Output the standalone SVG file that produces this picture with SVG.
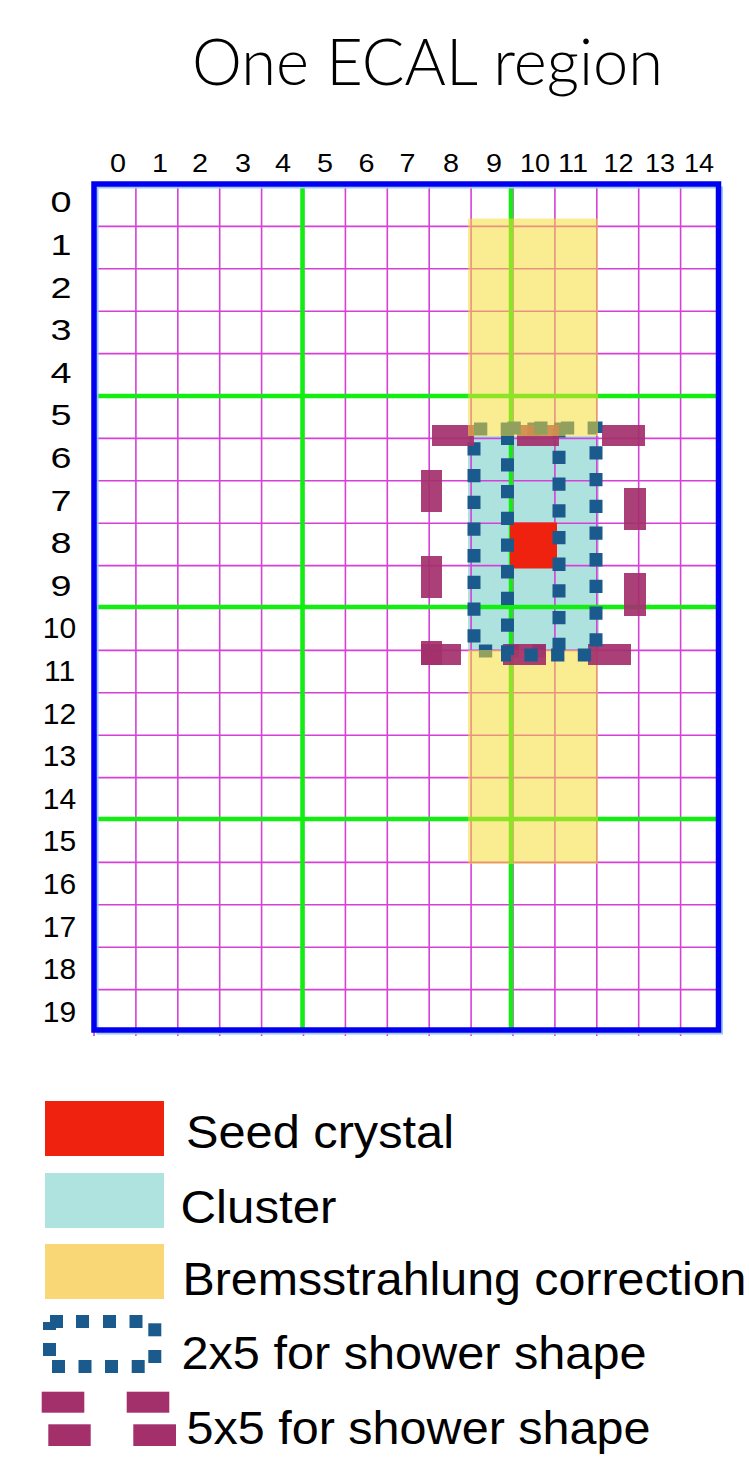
<svg xmlns="http://www.w3.org/2000/svg" width="749" height="1458" viewBox="0 0 749 1458">
<style>
.lbl{font-family:"Liberation Sans",Arial,sans-serif;fill:#000;}
.col{font-size:25px;text-anchor:middle;}
.row{font-size:30px;text-anchor:middle;}
.leg{font-size:46px;}
.title{font-family:Lato,"Open Sans",sans-serif;font-weight:300;font-size:66px;fill:#000;}
.mg{stroke:#D640D8;stroke-width:1.6;fill:none;}
.gr{stroke:#12EE12;stroke-width:4.5;fill:none;}
.yel{fill:#F6DC33;opacity:0.54;}
.bar{fill:#A3306B;opacity:0.92;}
.dash{fill:none;stroke:#1B5A8C;stroke-width:13;stroke-dasharray:13.3 13.4;}
.sq{fill:#1B5A8C;}
</style>
<rect width="749" height="1458" fill="#fff"/>

<text id="title" class="title" x="192" y="85" textLength="471" lengthAdjust="spacingAndGlyphs">One ECAL region</text>

<g id="column-labels" class="lbl col">
<text x="118" y="172" textLength="16" lengthAdjust="spacingAndGlyphs">0</text>
<text x="160" y="172" textLength="16" lengthAdjust="spacingAndGlyphs">1</text>
<text x="200" y="172" textLength="16" lengthAdjust="spacingAndGlyphs">2</text>
<text x="243" y="172" textLength="16" lengthAdjust="spacingAndGlyphs">3</text>
<text x="283" y="172" textLength="16" lengthAdjust="spacingAndGlyphs">4</text>
<text x="325" y="172" textLength="16" lengthAdjust="spacingAndGlyphs">5</text>
<text x="366.5" y="172" textLength="16" lengthAdjust="spacingAndGlyphs">6</text>
<text x="407.5" y="172" textLength="16" lengthAdjust="spacingAndGlyphs">7</text>
<text x="451" y="172" textLength="16" lengthAdjust="spacingAndGlyphs">8</text>
<text x="494" y="172" textLength="16" lengthAdjust="spacingAndGlyphs">9</text>
<text x="535" y="172" textLength="30" lengthAdjust="spacingAndGlyphs">10</text>
<text x="573" y="172" textLength="30" lengthAdjust="spacingAndGlyphs">11</text>
<text x="618.5" y="172" textLength="30" lengthAdjust="spacingAndGlyphs">12</text>
<text x="660" y="172" textLength="30" lengthAdjust="spacingAndGlyphs">13</text>
<text x="699" y="172" textLength="30" lengthAdjust="spacingAndGlyphs">14</text>
</g>

<g id="row-labels" class="lbl row">
<text x="61" y="212.3" textLength="21" lengthAdjust="spacingAndGlyphs">0</text>
<text x="61" y="254.9" textLength="21" lengthAdjust="spacingAndGlyphs">1</text>
<text x="61" y="297.5" textLength="21" lengthAdjust="spacingAndGlyphs">2</text>
<text x="61" y="340.1" textLength="21" lengthAdjust="spacingAndGlyphs">3</text>
<text x="61" y="382.7" textLength="21" lengthAdjust="spacingAndGlyphs">4</text>
<text x="61" y="425.3" textLength="21" lengthAdjust="spacingAndGlyphs">5</text>
<text x="61" y="467.9" textLength="21" lengthAdjust="spacingAndGlyphs">6</text>
<text x="61" y="510.5" textLength="21" lengthAdjust="spacingAndGlyphs">7</text>
<text x="61" y="553.1" textLength="21" lengthAdjust="spacingAndGlyphs">8</text>
<text x="61" y="595.7" textLength="21" lengthAdjust="spacingAndGlyphs">9</text>
<text x="59.5" y="638.3">10</text>
<text x="59.5" y="680.9">11</text>
<text x="59.5" y="723.5">12</text>
<text x="59.5" y="766.1">13</text>
<text x="59.5" y="808.7">14</text>
<text x="59.5" y="851.3">15</text>
<text x="59.5" y="893.9">16</text>
<text x="59.5" y="936.5">17</text>
<text x="59.5" y="979.1">18</text>
<text x="59.5" y="1021.7">19</text>
</g>

<g id="cluster">
<rect x="468" y="436" width="131" height="214" fill="#AEE2DF"/>
</g>

<g id="grid">
<path class="mg" d="M94 1030V1036M135.9 184V1036M177.8 184V1036M219.7 184V1036M261.6 184V1036M303.5 184V1036M345.4 184V1036M387.3 184V1036M429.2 184V1036M471.1 184V1036M513 184V1036M554.9 184V1036M596.8 184V1036M638.7 184V1036M680.6 184V1036"/>
<path class="mg" d="M94 226.4H716M94 268.8H716M94 311.2H716M94 353.6H716M94 396H716M94 438.4H716M94 480.8H716M94 523.2H716M94 565.6H716M94 608H716M94 650.4H716M94 692.8H716M94 735.2H716M94 777.6H716M94 820H716M94 862.4H716M94 904.8H716M94 947.2H716M94 989.6H716"/>
<path class="gr" d="M302.5 184V1030M511 184V1030M94 396H719M94 607H719M94 819H719"/>
<rect x="97.5" y="187.5" width="624.5" height="846" fill="none" stroke="#9CC8F4" stroke-width="2"/>
<rect x="94" y="184" width="624.5" height="846" fill="none" stroke="#0000F0" stroke-width="5.5"/>
</g>

<g id="seed-crystal">
<rect x="510" y="522.5" width="47" height="46" fill="#EE220F"/>
</g>

<g id="shower-2x5-a">
<rect class="dash" x="474" y="429" width="85" height="222"/>
</g>

<g id="bremsstrahlung-bottom">
<rect class="yel" x="468" y="650" width="130" height="214"/>
</g>

<g id="shower-5x5">
<rect class="bar" x="432" y="425" width="42" height="21"/>
<rect class="bar" x="517" y="425" width="42" height="21"/>
<rect class="bar" x="602" y="425" width="43" height="21"/>
<rect class="bar" x="421" y="470" width="21" height="42"/>
<rect class="bar" x="421" y="556" width="21" height="42"/>
<rect class="bar" x="624" y="488" width="22" height="42"/>
<rect class="bar" x="624" y="573" width="22" height="43"/>
<rect class="bar" x="421" y="641" width="21" height="24"/>
<rect class="bar" x="421" y="644" width="40" height="21"/>
<rect class="bar" x="503" y="644" width="43" height="21"/>
<rect class="bar" x="588" y="644" width="43" height="21"/>
</g>

<g id="shower-2x5-b">
<rect class="dash" x="507.5" y="428" width="88.5" height="227"/>
</g>

<g id="bremsstrahlung-top">
<rect class="yel" x="468" y="218.5" width="130" height="217.5"/>
</g>

<g id="legend-seed">
<rect x="45" y="1101" width="119" height="55" fill="#EE220F"/>
<text class="lbl leg" x="186" y="1148" textLength="268" lengthAdjust="spacingAndGlyphs">Seed crystal</text>
</g>
<g id="legend-cluster">
<rect x="45" y="1173" width="119" height="55" fill="#AEE3E0"/>
<text class="lbl leg" x="180.5" y="1223" textLength="156" lengthAdjust="spacingAndGlyphs">Cluster</text>
</g>
<g id="legend-brems">
<rect x="45" y="1244" width="119" height="55" fill="#F9D776"/>
<text class="lbl leg" x="182.5" y="1295" textLength="564" lengthAdjust="spacingAndGlyphs">Bremsstrahlung correction</text>
</g>
<g id="legend-2x5">
<rect class="sq" x="43" y="1322" width="13" height="8"/>
<rect class="sq" x="50" y="1315" width="13" height="13"/>
<rect class="sq" x="76" y="1315" width="13" height="13"/>
<rect class="sq" x="103" y="1315" width="13" height="13"/>
<rect class="sq" x="129.5" y="1315" width="13" height="13"/>
<rect class="sq" x="148.3" y="1323.3" width="13" height="13"/>
<rect class="sq" x="148.3" y="1350" width="13" height="13"/>
<rect class="sq" x="43" y="1343" width="13" height="13"/>
<rect class="sq" x="52" y="1360" width="13" height="13"/>
<rect class="sq" x="78.5" y="1360" width="13" height="13"/>
<rect class="sq" x="105" y="1360" width="13" height="13"/>
<rect class="sq" x="131.7" y="1360" width="13" height="13"/>
<text class="lbl leg" x="181.5" y="1369" textLength="465" lengthAdjust="spacingAndGlyphs">2x5 for shower shape</text>
</g>
<g id="legend-5x5">
<rect x="41.7" y="1391.7" width="42.6" height="21" fill="#A3306B"/>
<rect x="126.7" y="1391.7" width="42.6" height="21" fill="#A3306B"/>
<rect x="48.3" y="1424.3" width="42.4" height="21.7" fill="#A3306B"/>
<rect x="133.3" y="1424.3" width="42.7" height="21.7" fill="#A3306B"/>
<text class="lbl leg" x="186.5" y="1444" textLength="464" lengthAdjust="spacingAndGlyphs">5x5 for shower shape</text>
</g>
</svg>
